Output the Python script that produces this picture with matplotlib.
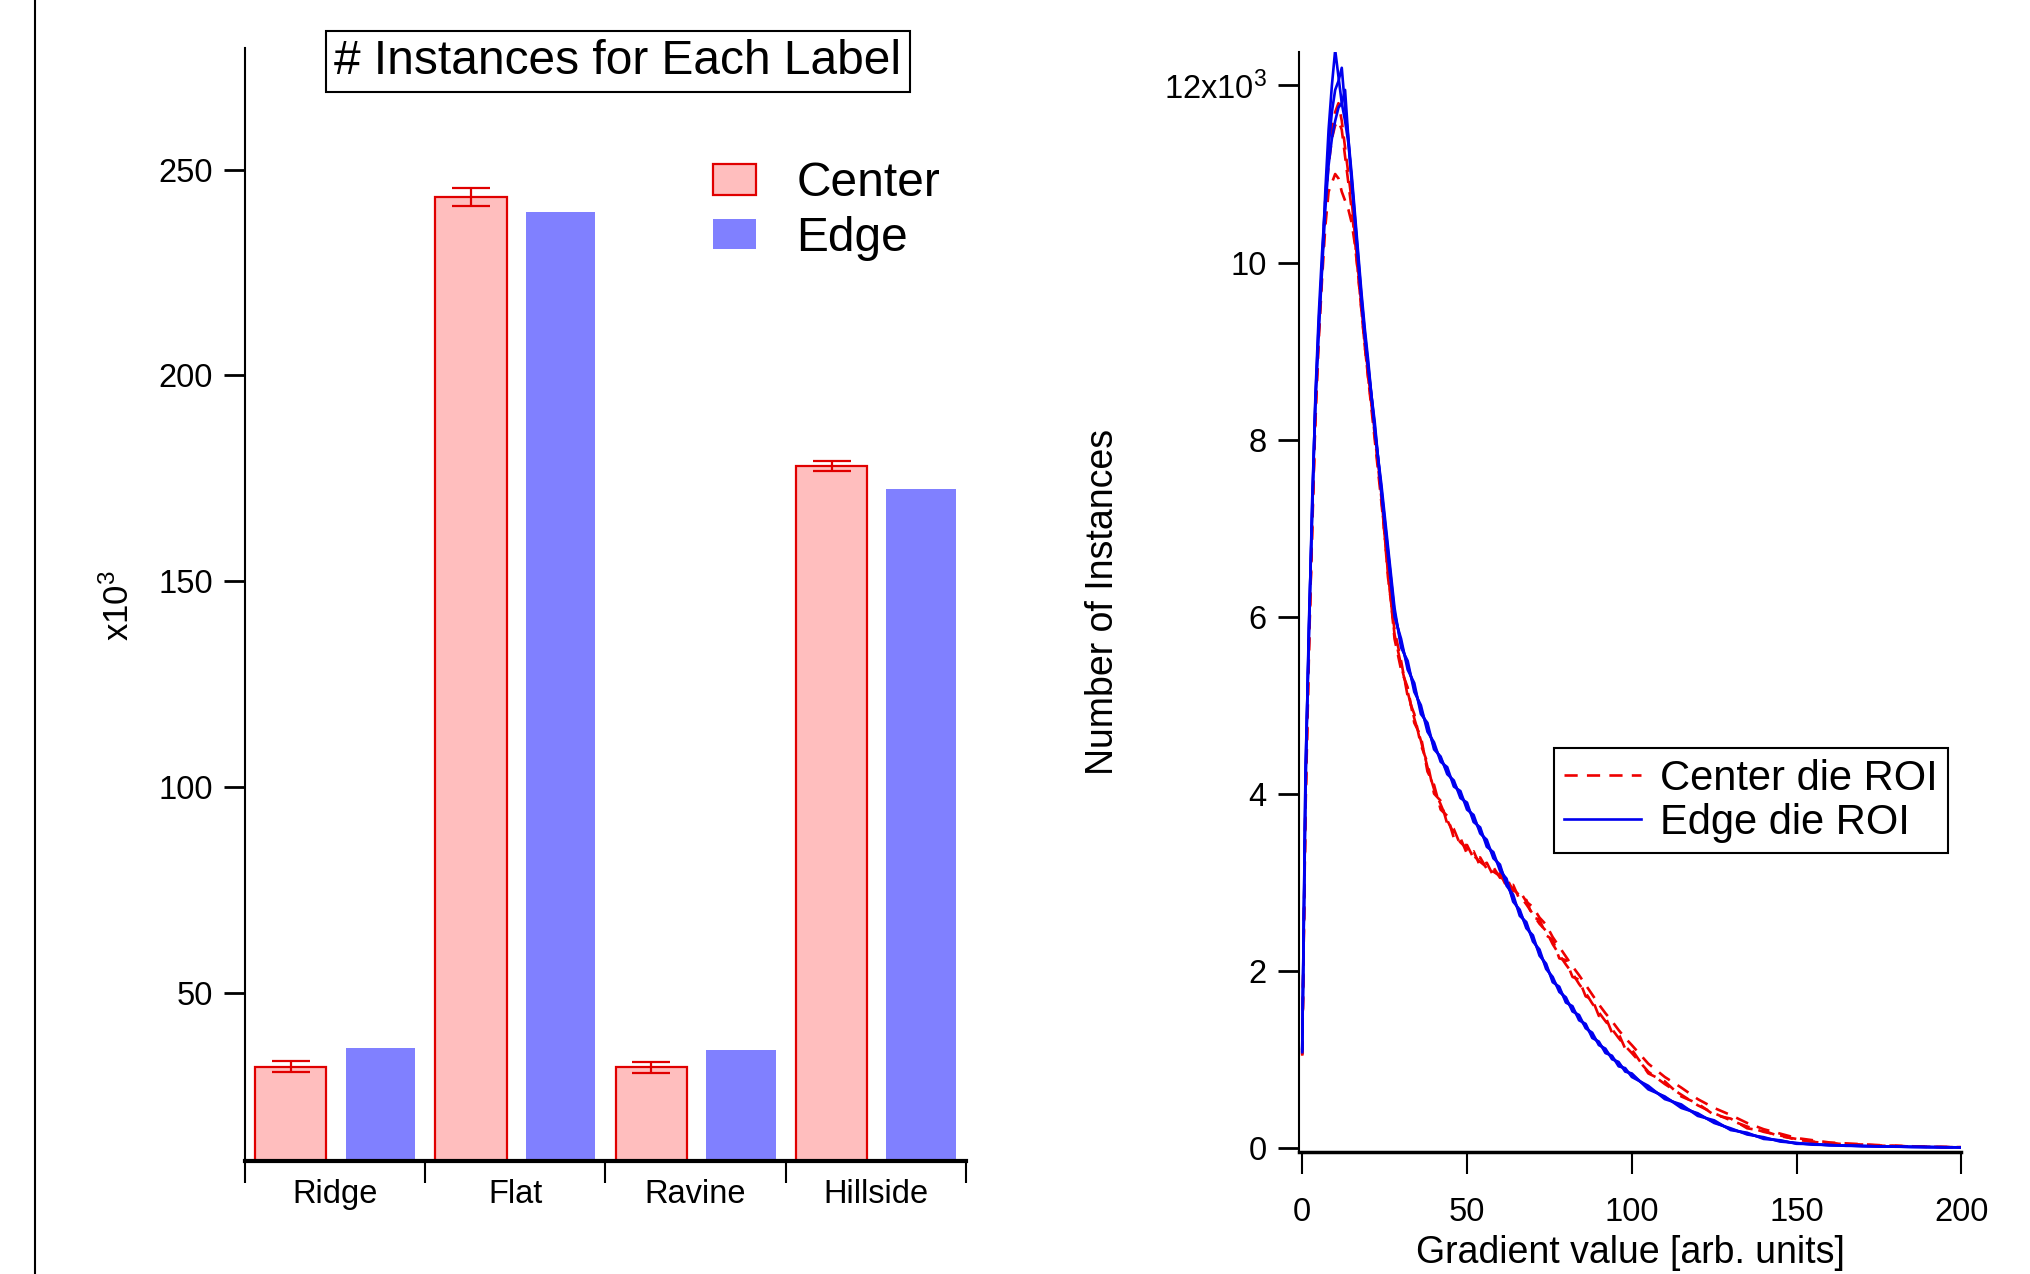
import matplotlib
matplotlib.use("Agg")
import numpy as np
import matplotlib.pyplot as plt
from matplotlib.patches import Patch
from matplotlib.lines import Line2D
from matplotlib.ticker import FuncFormatter

plt.rcParams['font.family'] = ['Liberation Sans', 'DejaVu Sans']
plt.rcParams['mathtext.fontset'] = 'custom'
plt.rcParams['mathtext.rm'] = 'Liberation Sans'
plt.rcParams['mathtext.it'] = 'Liberation Sans'

# Label counts (x10^3) per terrain class
labels = ['Ridge', 'Flat', 'Ravine', 'Hillside']
center_counts = [32.1, 243.4, 31.9, 178.0]
center_err = [1.3, 2.2, 1.25, 1.1]
edge_counts = [36.6, 239.6, 36.1, 172.3]

# Gradient histograms (x10^3 instances), three ROIs per group
grad_x = [0, 1, 2, 3, 4, 5, 6, 7, 8, 9, 10, 11, 12, 13, 14, 15, 16, 17, 18, 19, 20,
          22, 24, 26, 28, 30, 32, 34, 36, 38, 40,
          42, 44, 46, 48, 50, 52, 54, 56, 58, 60,
          62, 64, 66, 68, 70, 72, 74, 76, 78, 80,
          82, 84, 86, 88, 90, 92, 94, 96, 98, 100,
          105, 110, 115, 120, 125, 130, 135, 140, 145, 150,
          155, 160, 165, 170, 175, 180, 185, 190, 195, 200]

edge_1 = [1.1, 4.2, 5.8, 7.2, 8.45, 9.3, 9.95, 10.8, 11.5, 12.0, 12.4, 12.1, 11.8, 11.6, 11.35, 10.95, 10.5, 10.05, 9.6, 9.2, 8.85,
          8.15, 7.45, 6.75, 6.05, 5.7, 5.45, 5.2, 4.95, 4.75, 4.53,
          4.4, 4.25, 4.12, 3.99, 3.86, 3.72, 3.58, 3.44, 3.3, 3.17,
          3.0, 2.81, 2.66, 2.51, 2.36, 2.2, 2.05, 1.9, 1.79, 1.67,
          1.57, 1.47, 1.37, 1.27, 1.18, 1.1, 1.02, 0.95, 0.88, 0.82,
          0.68, 0.57, 0.47, 0.38, 0.29, 0.21, 0.16, 0.11, 0.08, 0.05,
          0.04, 0.03, 0.025, 0.02, 0.016, 0.013, 0.01, 0.008, 0.006, 0.005]
edge_2 = [1.12, 4.0, 5.9, 7.1, 8.5, 9.4, 10.1, 10.7, 11.3, 11.7, 11.95, 12.05, 12.2, 11.75, 11.4, 11.0, 10.55, 10.1, 9.65, 9.25, 8.9,
          8.1, 7.5, 6.8, 6.1, 5.65, 5.5, 5.15, 5.0, 4.7, 4.58,
          4.36, 4.3, 4.08, 4.03, 3.82, 3.76, 3.55, 3.48, 3.27, 3.2,
          2.96, 2.86, 2.62, 2.55, 2.33, 2.24, 2.02, 1.93, 1.76, 1.7,
          1.54, 1.5, 1.35, 1.3, 1.16, 1.12, 1.0, 0.97, 0.86, 0.84,
          0.66, 0.58, 0.45, 0.39, 0.28, 0.22, 0.15, 0.12, 0.07, 0.055,
          0.035, 0.032, 0.022, 0.021, 0.014, 0.014, 0.009, 0.009, 0.005, 0.005]
edge_3 = [1.08, 4.3, 5.7, 7.3, 8.4, 9.2, 9.9, 10.6, 11.1, 11.4, 11.6, 11.75, 11.8, 11.95, 11.4, 10.9, 10.45, 10.0, 9.55, 9.15, 8.8,
          8.2, 7.4, 6.7, 6.0, 5.75, 5.4, 5.25, 4.9, 4.8, 4.5,
          4.42, 4.22, 4.15, 3.95, 3.9, 3.68, 3.62, 3.4, 3.34, 3.13,
          3.04, 2.78, 2.69, 2.48, 2.4, 2.17, 2.08, 1.87, 1.82, 1.64,
          1.6, 1.44, 1.4, 1.24, 1.2, 1.07, 1.04, 0.92, 0.9, 0.8,
          0.7, 0.55, 0.49, 0.36, 0.31, 0.2, 0.17, 0.1, 0.085, 0.045,
          0.042, 0.028, 0.027, 0.018, 0.017, 0.012, 0.011, 0.007, 0.007, 0.004]

center_1 = [1.05, 3.9, 5.6, 7.0, 8.3, 9.2, 9.9, 10.6, 11.2, 11.5, 11.7, 11.8, 11.6, 11.3, 11.0, 10.7, 10.3, 9.9, 9.5, 9.1, 8.75,
            8.05, 7.35, 6.5, 5.8, 5.45, 5.15, 4.85, 4.6, 4.3, 4.05,
            3.88, 3.7, 3.55, 3.45, 3.38, 3.3, 3.23, 3.17, 3.12, 3.07,
            3.0, 2.92, 2.85, 2.75, 2.64, 2.53, 2.45, 2.3, 2.18, 2.07,
            1.97, 1.85, 1.75, 1.63, 1.53, 1.43, 1.34, 1.24, 1.15, 1.07,
            0.86, 0.72, 0.6, 0.48, 0.39, 0.31, 0.24, 0.18, 0.14, 0.09,
            0.07, 0.05, 0.04, 0.035, 0.025, 0.02, 0.015, 0.01, 0.008, 0.006]
center_2 = [1.06, 3.8, 5.5, 7.1, 8.2, 9.1, 9.8, 10.4, 10.8, 10.9, 11.0, 10.95, 10.8, 10.7, 10.6, 10.45, 10.2, 9.85, 9.45, 9.05, 8.7,
            8.0, 7.3, 6.55, 5.75, 5.4, 5.2, 4.8, 4.65, 4.25, 4.1,
            3.82, 3.75, 3.5, 3.5, 3.32, 3.35, 3.18, 3.22, 3.07, 3.1,
            2.95, 2.97, 2.8, 2.8, 2.6, 2.58, 2.4, 2.35, 2.14, 2.12,
            1.93, 1.9, 1.71, 1.68, 1.49, 1.48, 1.3, 1.29, 1.12, 1.11,
            0.84, 0.75, 0.58, 0.5, 0.37, 0.33, 0.22, 0.19, 0.13, 0.1,
            0.065, 0.055, 0.038, 0.037, 0.023, 0.022, 0.014, 0.011, 0.007, 0.006]
center_3 = [1.04, 4.0, 5.7, 6.9, 8.35, 9.25, 9.95, 10.7, 11.1, 11.4, 11.55, 11.6, 11.5, 11.2, 10.9, 10.6, 10.25, 9.85, 9.45, 9.05, 8.7,
            8.1, 7.4, 6.45, 5.85, 5.5, 5.1, 4.9, 4.55, 4.35, 4.0,
            3.92, 3.66, 3.6, 3.42, 3.42, 3.27, 3.28, 3.15, 3.17, 3.05,
            3.05, 2.9, 2.9, 2.78, 2.72, 2.6, 2.52, 2.38, 2.27, 2.16,
            2.05, 1.95, 1.84, 1.73, 1.62, 1.52, 1.43, 1.33, 1.24, 1.16,
            0.95, 0.8, 0.68, 0.55, 0.45, 0.37, 0.28, 0.21, 0.16, 0.11,
            0.085, 0.06, 0.05, 0.04, 0.03, 0.022, 0.017, 0.012, 0.009, 0.007]

pink = '#FFBEBE'
red = '#E00000'
lilac = '#8080FF'
tick_fs = 23.5

fig = plt.figure(figsize=(20.3, 12.74), dpi=100)
ax1 = fig.add_axes([0.1205, 0.0885, 0.3553, 0.874])
ax2 = fig.add_axes([0.6397, 0.0956, 0.3265, 0.8637])

# --- bar chart ---
pos = np.arange(len(labels))
ax1.bar(pos + 0.255, center_counts, width=0.395, color=pink, edgecolor=red, linewidth=1.6, zorder=2)
ax1.errorbar(pos + 0.255, center_counts, yerr=center_err, fmt='none', ecolor=red,
             elinewidth=1.6, capsize=14, capthick=1.6, zorder=3)
ax1.bar(pos + 0.752, edge_counts, width=0.385, color=lilac, zorder=2)

ax1.set_xlim(0, 4)
ax1.set_ylim(9.1, 279.6)
for s in ['top', 'right']:
    ax1.spines[s].set_visible(False)
ax1.spines['bottom'].set_linewidth(3)
ax1.spines['left'].set_linewidth(1.5)

ax1.set_xticks([0, 1, 2, 3, 4])
ax1.set_xticklabels([])
ax1.set_xticks(pos + 0.5, minor=True)
ax1.set_xticklabels(labels, minor=True)
ax1.tick_params(axis='x', which='major', direction='out', length=16, width=1.5)
ax1.tick_params(axis='x', which='minor', length=0, labelsize=tick_fs, pad=13)
ax1.set_yticks([50, 100, 150, 200, 250])
ax1.tick_params(axis='y', direction='out', length=15, width=2, labelsize=tick_fs, pad=8)
ax1.set_ylabel('x10$^{3}$', fontsize=25)
ax1.yaxis.set_label_coords(-0.1743, 0.4987)
ax1.yaxis.label.set_va('center')

handles = [Patch(facecolor=pink, edgecolor=red, linewidth=1.6),
           Patch(facecolor=lilac, edgecolor='none')]
ax1.legend(handles, ['Center', 'Edge'], loc='upper left', bbox_to_anchor=(0.649, 0.898),
           frameon=False, fontsize=34.5, handlelength=0.9, handleheight=0.6,
           handletextpad=0.85, labelspacing=0.2, borderpad=0, borderaxespad=0)

fig.text(0.3044, 0.9517, '# Instances for Each Label', ha='center', va='center', fontsize=34.5,
         bbox=dict(boxstyle='square,pad=0.17', facecolor='white', edgecolor='black', linewidth=1.5))

# --- gradient histograms ---
for i, c in enumerate([center_1, center_2, center_3]):
    ax2.plot(grad_x, c, color='#EE0000', linestyle=(0, (5, 3.5)), linewidth=1.9,
             label='Center die ROI' if i == 0 else None)
for i, c in enumerate([edge_1, edge_2, edge_3]):
    ax2.plot(grad_x, c, color='#0000EE', linewidth=1.9,
             label='Edge die ROI' if i == 0 else None)

ax2.set_xlim(-1.1, 200)
ax2.set_ylim(-0.05, 12.38)
for s in ['top', 'right']:
    ax2.spines[s].set_visible(False)
ax2.spines['bottom'].set_linewidth(2.5)
ax2.spines['left'].set_linewidth(1.5)
ax2.set_xticks([0, 50, 100, 150, 200])
ax2.set_yticks([0, 2, 4, 6, 8, 10, 12])
ax2.yaxis.set_major_formatter(FuncFormatter(lambda v, p: '12x10$^{3}$' if v == 12 else f'{v:g}'))
ax2.tick_params(axis='x', direction='out', length=16, width=1.5, labelsize=tick_fs, pad=16)
ax2.tick_params(axis='y', direction='out', length=15, width=2, labelsize=tick_fs, pad=8)

ax2.set_xlabel('Gradient value [arb. units]', fontsize=27)
ax2.xaxis.set_label_coords(0.5, -0.092)
ax2.xaxis.label.set_va('center')
ax2.set_ylabel('Number of Instances', fontsize=27)
ax2.yaxis.set_label_coords(-0.295, 0.5)
ax2.yaxis.label.set_va('center')

leg = ax2.legend(loc='upper right', bbox_to_anchor=(0.98, 0.367), borderaxespad=0,
                 fontsize=30, handlelength=1.83, handletextpad=0.47, labelspacing=0.1,
                 borderpad=0.25, fancybox=False, framealpha=1)
leg.get_frame().set_edgecolor('black')
leg.get_frame().set_linewidth(1.5)

# thin rule along the left margin
fig.add_artist(Line2D([35 / 2030, 35 / 2030], [0, 1], color='black', linewidth=1.5,
                      transform=fig.transFigure))

fig.savefig('out.png', dpi=100)
